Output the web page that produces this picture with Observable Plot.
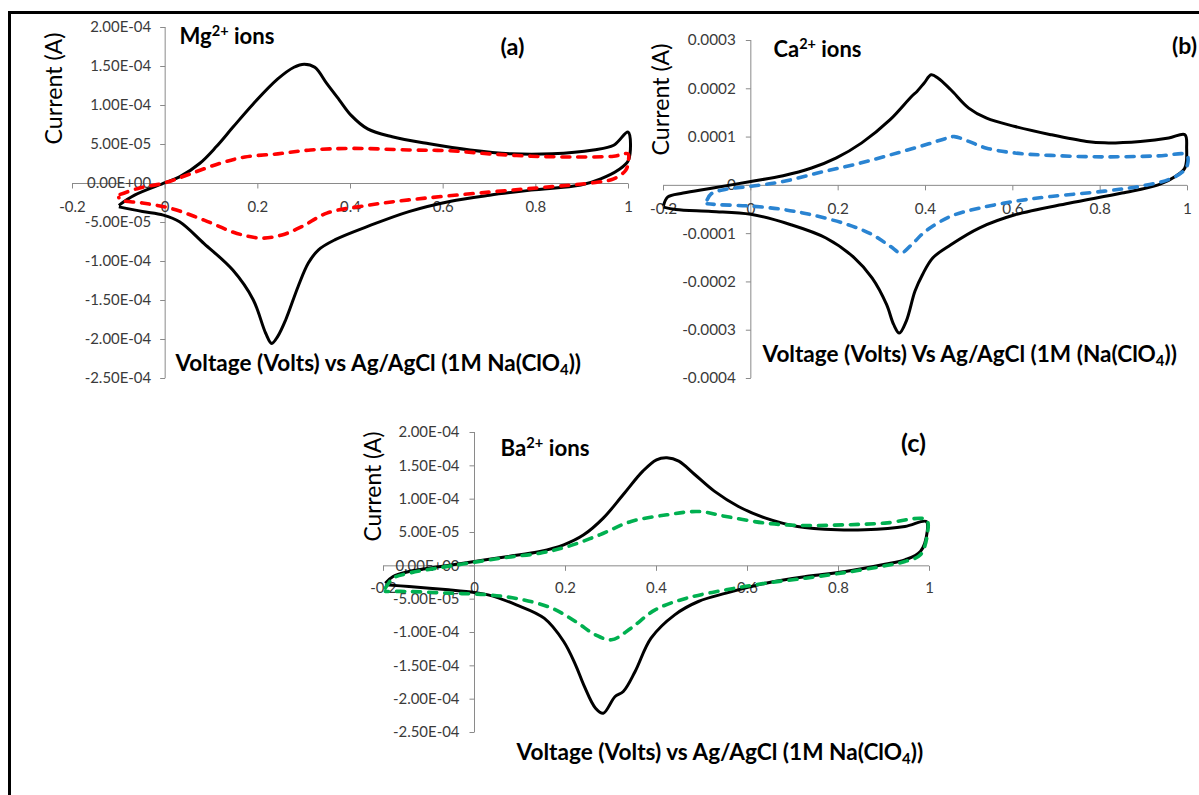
<!DOCTYPE html>
<html>
<head>
<meta charset="utf-8">
<script src="https://cdn.jsdelivr.net/npm/d3@7"></script>
<script src="https://cdn.jsdelivr.net/npm/@observablehq/plot@0.6"></script>
<style>
  html, body { margin: 0; padding: 0; background: #fff; }
  #page { position: relative; width: 1199px; height: 795px; overflow: hidden; background: #fff; }
  #frame { position: absolute; left: 8px; top: 11px; width: 1230px; height: 830px; border: 3px solid #000; box-sizing: border-box; }
  #page svg { position: absolute; overflow: visible; }
</style>
</head>
<body>
<div id="page"><div id="frame"></div></div>
<script>
// ---------------- tick values and labels ----------------
const xTicks = [-0.2, 0, 0.2, 0.4, 0.6, 0.8, 1];
const xTickLabels = ["-0.2", "0", "0.2", "0.4", "0.6", "0.8", "1"];

const yTicksMgBa = [-2.5e-4, -2.0e-4, -1.5e-4, -1.0e-4, -5.0e-5, 0, 5.0e-5, 1.0e-4, 1.5e-4, 2.0e-4];
const yTickLabelsMgBa = ["-2.50E-04", "-2.00E-04", "-1.50E-04", "-1.00E-04", "-5.00E-05", "0.00E+00", "5.00E-05", "1.00E-04", "1.50E-04", "2.00E-04"];

const yTicksCa = [-0.0004, -0.0003, -0.0002, -0.0001, 0, 0.0001, 0.0002, 0.0003];
const yTickLabelsCa = ["-0.0004", "-0.0003", "-0.0002", "-0.0001", "0", "0.0001", "0.0002", "0.0003"];

// ---------------- (a) Mg2+ ----------------
const mgBlackV = [-0.10,-0.066,0,0.031,0.075,0.11,0.146,0.19,0.243,0.278,0.30,0.323,0.349,0.376,0.402,0.437,0.49,0.57,0.658,0.747,0.835,0.924,0.968,0.999,1.0,0.977,0.94,0.897,0.79,0.70,0.614,0.526,0.437,0.367,0.331,0.309,0.287,0.26,0.243,0.23,0.217,0.19,0.146,0.084,0.031,-0.004,-0.049,-0.10];
const mgBlackI = [-2.8e-5,-1.5e-5,0.1e-5,0.85e-5,2.6e-5,4.7e-5,7.2e-5,10.2e-5,13.4e-5,14.9e-5,15.3e-5,14.9e-5,12.8e-5,10.7e-5,8.7e-5,7.0e-5,6.0e-5,5.1e-5,4.3e-5,3.8e-5,3.8e-5,4.3e-5,4.9e-5,6.6e-5,3.0e-5,1.7e-5,0.6e-5,-0.2e-5,-0.85e-5,-1.5e-5,-2.3e-5,-3.6e-5,-5.5e-5,-7.2e-5,-8.5e-5,-10.2e-5,-13.2e-5,-17.5e-5,-19.6e-5,-20.5e-5,-19.2e-5,-14.9e-5,-11.1e-5,-7.7e-5,-4.9e-5,-4.05e-5,-3.6e-5,-3.0e-5];
const mgRedV = [-0.097,-0.057,0,0.057,0.119,0.172,0.243,0.314,0.402,0.526,0.614,0.70,0.79,0.88,0.968,0.999,1.0,0.994,0.968,0.924,0.835,0.70,0.526,0.437,0.349,0.296,0.252,0.208,0.155,0.084,0.013,-0.049,-0.097,-0.1];
const mgRedI = [-1.4e-5,-0.6e-5,0.1e-5,1.3e-5,2.6e-5,3.4e-5,3.8e-5,4.3e-5,4.5e-5,4.3e-5,4.2e-5,3.8e-5,3.5e-5,3.4e-5,3.5e-5,3.8e-5,3.0e-5,1.7e-5,0.6e-5,0.1e-5,-0.4e-5,-1.1e-5,-2.1e-5,-2.8e-5,-3.8e-5,-5.5e-5,-6.6e-5,-7.0e-5,-6.4e-5,-4.7e-5,-3.2e-5,-2.5e-5,-2.1e-5,-1.8e-5];

// ---------------- (b) Ca2+ ----------------
const caBlackV = [-0.2,-0.19,-0.155,-0.09,0,0.074,0.139,0.196,0.254,0.319,0.368,0.38,0.397,0.413,0.429,0.458,0.499,0.54,0.605,0.687,0.769,0.81,0.892,0.957,0.994,0.998,0.994,0.973,0.933,0.85,0.728,0.605,0.524,0.458,0.417,0.393,0.376,0.356,0.34,0.327,0.311,0.278,0.237,0.172,0.09,0,-0.09,-0.172,-0.2];
const caBlackI = [-0.42e-4,-0.24e-4,-0.16e-4,-0.06e-4,0.08e-4,0.2e-4,0.36e-4,0.57e-4,0.88e-4,1.36e-4,1.84e-4,1.94e-4,2.12e-4,2.29e-4,2.22e-4,1.98e-4,1.6e-4,1.39e-4,1.22e-4,1.05e-4,0.91e-4,0.88e-4,0.91e-4,0.98e-4,1.05e-4,0.77e-4,0.36e-4,0.19e-4,0.01e-4,-0.16e-4,-0.37e-4,-0.61e-4,-0.88e-4,-1.23e-4,-1.5e-4,-1.85e-4,-2.19e-4,-2.81e-4,-3.06e-4,-2.88e-4,-2.47e-4,-1.92e-4,-1.5e-4,-1.09e-4,-0.81e-4,-0.6e-4,-0.54e-4,-0.5e-4,-0.45e-4];
const caBlueV = [-0.1,-0.09,-0.057,0,0.074,0.155,0.237,0.319,0.40,0.45,0.466,0.499,0.54,0.605,0.687,0.81,0.933,0.998,1.0,0.99,0.957,0.89,0.81,0.687,0.605,0.524,0.458,0.40,0.368,0.344,0.319,0.278,0.221,0.139,0.074,0,-0.074,-0.1];
const caBlueI = [-0.3e-4,-0.17e-4,-0.08e-4,-0.02e-4,0.08e-4,0.26e-4,0.43e-4,0.63e-4,0.84e-4,0.98e-4,1.01e-4,0.91e-4,0.77e-4,0.67e-4,0.62e-4,0.59e-4,0.61e-4,0.63e-4,0.43e-4,0.29e-4,0.12e-4,-0.02e-4,-0.12e-4,-0.23e-4,-0.33e-4,-0.47e-4,-0.64e-4,-0.95e-4,-1.23e-4,-1.4e-4,-1.26e-4,-1.02e-4,-0.81e-4,-0.61e-4,-0.5e-4,-0.43e-4,-0.4e-4,-0.38e-4];

// ---------------- (c) Ba2+ ----------------
const baBlackV = [-0.196,-0.179,-0.144,-0.074,0,0.074,0.144,0.196,0.24,0.283,0.327,0.37,0.40,0.423,0.449,0.484,0.527,0.58,0.64,0.71,0.797,0.858,0.946,0.993,0.995,0.98,0.946,0.902,0.815,0.728,0.64,0.553,0.492,0.44,0.388,0.353,0.327,0.309,0.283,0.266,0.24,0.222,0.196,0.153,0.092,0.03,0,-0.057,-0.144,-0.196];
const baBlackI = [-2.6e-5,-1.6e-5,-0.85e-5,-0.1e-5,0.65e-5,1.4e-5,2.15e-5,3.15e-5,4.65e-5,7.15e-5,10.7e-5,14.2e-5,15.9e-5,16.2e-5,15.7e-5,13.7e-5,11.2e-5,8.9e-5,7.15e-5,5.9e-5,5.4e-5,5.4e-5,5.9e-5,6.65e-5,5.15e-5,2.15e-5,0.9e-5,0.25e-5,-0.85e-5,-1.6e-5,-2.6e-5,-4.1e-5,-5.35e-5,-7.35e-5,-10.85e-5,-15.85e-5,-18.85e-5,-19.6e-5,-22.1e-5,-21.35e-5,-17.85e-5,-14.85e-5,-11.35e-5,-7.85e-5,-5.85e-5,-4.35e-5,-4.0e-5,-3.6e-5,-3.1e-5,-2.85e-5];
const baGreenV = [-0.196,-0.179,-0.144,-0.074,0,0.074,0.144,0.205,0.275,0.344,0.423,0.492,0.553,0.64,0.728,0.815,0.902,0.993,0.995,0.98,0.946,0.902,0.815,0.728,0.64,0.553,0.466,0.397,0.344,0.301,0.266,0.222,0.17,0.1,0.03,-0.057,-0.144,-0.196];
const baGreenI = [-3.35e-5,-1.85e-5,-1.1e-5,-0.25e-5,0.55e-5,1.3e-5,1.9e-5,2.9e-5,4.65e-5,6.65e-5,7.65e-5,8.15e-5,7.4e-5,6.4e-5,6.05e-5,6.15e-5,6.4e-5,6.9e-5,4.65e-5,1.65e-5,0.65e-5,0,-1.0e-5,-1.85e-5,-2.6e-5,-3.6e-5,-4.85e-5,-6.6e-5,-9.35e-5,-11.1e-5,-10.35e-5,-8.35e-5,-6.35e-5,-5.0e-5,-4.35e-5,-4.1e-5,-3.85e-5,-3.85e-5];

// ---------------- drawing ----------------
const FONT = "Lato, 'Open Sans', 'DejaVu Sans', sans-serif";
const axisColor = "#8a8a8a";
const tickLeft = { draw(ctx) { ctx.moveTo(-5, 0); ctx.lineTo(0, 0); } };
const tickDown = { draw(ctx) { ctx.moveTo(0, 0); ctx.lineTo(0, 5); } };
const svgNS = "http://www.w3.org/2000/svg";
const SUP = 0.66;

const mctx = document.createElement("canvas").getContext("2d");
function parseRich(s) {
  const re = /([\^_])\{([^}]*)\}/g;
  let last = 0, m; const parts = [];
  while ((m = re.exec(s))) {
    if (m.index > last) parts.push({ t: s.slice(last, m.index), k: 0 });
    parts.push({ t: m[2], k: m[1] === "^" ? 1 : -1 });
    last = re.lastIndex;
  }
  if (last < s.length) parts.push({ t: s.slice(last), k: 0 });
  return parts;
}
// font size (px) at which the text spans the wanted width
function fitSize(s, width, weight) {
  let w = 0;
  for (const p of parseRich(s)) {
    mctx.font = `${weight} ${p.k ? 100 * SUP : 100}px ${FONT}`;
    w += mctx.measureText(p.t).width;
  }
  return 100 * width / w;
}

function richify(svg, fsMap) {
  for (const el of svg.querySelectorAll("text")) {
    const s = el.textContent;
    if (!/[\^_]\{/.test(s)) continue;
    const fs = fsMap[s];
    el.textContent = "";
    let cur = 0;
    for (const p of parseRich(s)) {
      const ts = document.createElementNS(svgNS, "tspan");
      const target = p.k === 1 ? -0.36 * fs : p.k === -1 ? 0.2 * fs : 0;
      if (target !== cur) ts.setAttribute("dy", (target - cur).toFixed(2));
      cur = target;
      if (p.k) ts.setAttribute("font-size", (SUP * fs).toFixed(2));
      ts.textContent = p.t;
      el.appendChild(ts);
    }
  }
}

function panel(cfg) {
  const { left, top, W, H, ml, mr, mt, mb, xDom, yDom, yTicks, yLabels, series, texts, tickW, xLabDy, yLabDx } = cfg;
  const tickFs = fitSize(yLabels[yLabels.length - 1], tickW, "normal");
  texts.forEach(t => t.fs = fitSize(t.text, t.w, t.fw || "normal"));
  const marks = [
    Plot.ruleY([0], { x1: () => xDom[0], x2: () => xDom[1], stroke: axisColor, strokeWidth: 1 }),
    Plot.ruleX([0], { y1: () => yDom[0], y2: () => yDom[1], stroke: axisColor, strokeWidth: 1 }),
    Plot.dot(yTicks, { x: () => 0, y: d => d, symbol: tickLeft, fill: "none", stroke: axisColor, strokeWidth: 1 }),
    Plot.dot(xTicks, { x: d => d, y: () => 0, symbol: tickDown, fill: "none", stroke: axisColor, strokeWidth: 1 }),
    Plot.text(yTicks, { x: () => 0, y: d => d, text: (d, i) => yLabels[i], textAnchor: "end", dx: yLabDx, fontSize: tickFs, fill: "#3a3a3a" }),
    Plot.text(xTicks, { x: d => d, y: () => 0, text: (d, i) => xTickLabels[i], dy: xLabDy, fontSize: tickFs, fill: "#3a3a3a" }),
    ...series.map(s => Plot.line(toRows(s.V, s.I), {
      x: "v", y: "i", stroke: s.color, strokeWidth: s.w,
      strokeDasharray: s.dash, strokeLinecap: s.dash ? "round" : "butt", strokeLinejoin: "round",
      curve: "catmull-rom"
    })),
    ...texts.map(t => Plot.text([t.text], {
      text: d => d, frameAnchor: "top-left", dx: t.x - ml, dy: t.y - mt,
      textAnchor: t.anchor || "start", lineAnchor: "middle", rotate: t.rotate || 0,
      fontSize: t.fs, fontWeight: t.fw || "normal", fill: "#000"
    }))
  ];
  const svg = Plot.plot({
    width: W, height: H, marginLeft: ml, marginRight: mr, marginTop: mt, marginBottom: mb,
    x: { domain: xDom, axis: null },
    y: { domain: yDom, axis: null },
    style: { fontFamily: FONT, background: "transparent", overflow: "visible" },
    marks
  });
  const fsMap = {}; texts.forEach(t => fsMap[t.text] = t.fs);
  richify(svg, fsMap);
  svg.style.left = left + "px";
  svg.style.top = top + "px";
  document.getElementById("page").appendChild(svg);
}
function toRows(V, I) { return V.map((v, k) => ({ v, i: I[k] })); }

const BLACK = "#000000", RED = "#ff0000", BLUE = "#2a84d2", GREEN = "#00b050";
const DASH = "8,8";

// (a)
panel({
  left: 0, top: 0, W: 640, H: 400, ml: 72, mr: 12, mt: 27, mb: 22,
  xDom: [-0.2, 1], yDom: [-2.5e-4, 2.0e-4],
  yTicks: yTicksMgBa, yLabels: yTickLabelsMgBa, tickW: 61, xLabDy: 24, yLabDx: -14,
  series: [
    { V: mgBlackV, I: mgBlackI, color: BLACK, w: 3 },
    { V: mgRedV, I: mgRedI, color: RED, w: 3.6, dash: DASH }
  ],
  texts: [
    { text: "Current (A)", x: 54, y: 88, anchor: "middle", rotate: -90, w: 112 },
    { text: "Mg^{2+} ions", x: 179, y: 36, w: 95, fw: "bold" },
    { text: "(a)", x: 512, y: 47, anchor: "middle", w: 24, fw: "bold" },
    { text: "Voltage (Volts) vs Ag/AgCl (1M Na(ClO_{4}))", x: 175, y: 363, w: 407, fw: "bold" }
  ]
});

// (b)
panel({
  left: 640, top: 0, W: 559, H: 400, ml: 23, mr: 12, mt: 40, mb: 22,
  xDom: [-0.2, 1], yDom: [-0.0004, 0.0003],
  yTicks: yTicksCa, yLabels: yTickLabelsCa, tickW: 48, xLabDy: 24, yLabDx: -15,
  series: [
    { V: caBlackV, I: caBlackI, color: BLACK, w: 3 },
    { V: caBlueV, I: caBlueI, color: BLUE, w: 3.6, dash: DASH }
  ],
  texts: [
    { text: "Current (A)", x: 21.5, y: 99, anchor: "middle", rotate: -90, w: 112 },
    { text: "Ca^{2+} ions", x: 133, y: 49, w: 88, fw: "bold" },
    { text: "(b)", x: 544, y: 46, anchor: "middle", w: 25, fw: "bold" },
    { text: "Voltage (Volts) Vs Ag/AgCl (1M (Na(ClO_{4}))", x: 122, y: 354, w: 416, fw: "bold" }
  ]
});

// (c)
panel({
  left: 330, top: 410, W: 620, H: 385, ml: 53, mr: 21, mt: 22, mb: 63,
  xDom: [-0.2, 1], yDom: [-2.5e-4, 2.0e-4],
  yTicks: yTicksMgBa, yLabels: yTickLabelsMgBa, tickW: 61, xLabDy: 22, yLabDx: -15,
  series: [
    { V: baBlackV, I: baBlackI, color: BLACK, w: 3 },
    { V: baGreenV, I: baGreenI, color: GREEN, w: 3.6, dash: DASH }
  ],
  texts: [
    { text: "Current (A)", x: 43, y: 76, anchor: "middle", rotate: -90, w: 110 },
    { text: "Ba^{2+} ions", x: 170, y: 38, w: 89, fw: "bold" },
    { text: "(c)", x: 583, y: 33, anchor: "middle", w: 25, fw: "bold" },
    { text: "Voltage (Volts) vs Ag/AgCl (1M Na(ClO_{4}))", x: 186, y: 342, w: 408, fw: "bold" }
  ]
});
</script>
</body>
</html>
